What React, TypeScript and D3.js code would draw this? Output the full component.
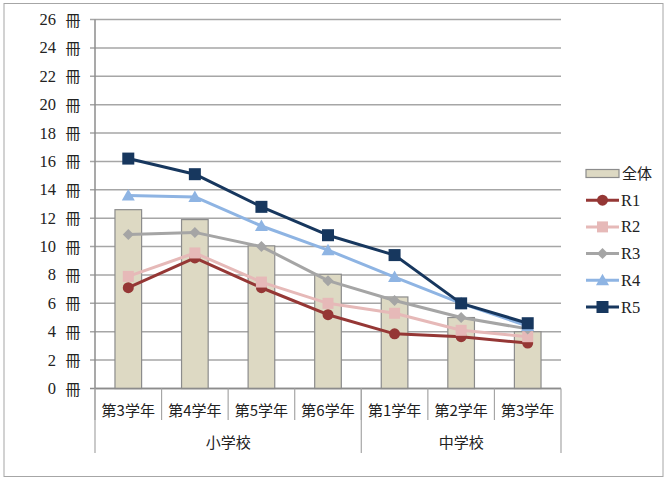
import React from "react";
import * as d3 from "d3";

const categories = ["第3学年", "第4学年", "第5学年", "第6学年", "第1学年", "第2学年", "第3学年"];
const groups = [
  { name: "小学校", count: 4 },
  { name: "中学校", count: 3 },
];
const totalValues = [12.6, 11.9, 10.05, 8.05, 6.45, 5.0, 4.0];
const r1 = [7.1, 9.2, 7.1, 5.2, 3.85, 3.65, 3.2];
const r2 = [7.9, 9.55, 7.5, 6.0, 5.3, 4.1, 3.65];
const r3 = [10.85, 11.0, 10.0, 7.6, 6.2, 5.0, 4.2];
const r4 = [13.6, 13.5, 11.45, 9.75, 7.85, 6.0, 4.4];
const r5 = [16.2, 15.1, 12.8, 10.8, 9.4, 6.0, 4.6];
const yTicks = [0, 2, 4, 6, 8, 10, 12, 14, 16, 18, 20, 22, 24, 26];
const unit = "冊";
const barName = "全体";

const series = [
  { name: "R1", values: r1, color: "#953735", marker: "circle" },
  { name: "R2", values: r2, color: "#e6b9b8", marker: "square" },
  { name: "R3", values: r3, color: "#a5a5a5", marker: "diamond" },
  { name: "R4", values: r4, color: "#8eb4e3", marker: "triangle" },
  { name: "R5", values: r5, color: "#17375e", marker: "squareBig" },
];

const W = 665;
const H = 478;
const plot = { left: 95, right: 561, top: 19.5, bottom: 388.5 };

const serif = "'Liberation Serif', 'DejaVu Serif', serif";
const cjk = "'Noto Sans CJK JP', sans-serif";

function Marker({ type, x, y, color }: { type: string; x: number; y: number; color: string }) {
  if (type === "circle") return <circle cx={x} cy={y} r={5.5} fill={color} />;
  if (type === "square") return <rect x={x - 5.5} y={y - 5.5} width={11} height={11} fill={color} />;
  if (type === "squareBig") return <rect x={x - 6} y={y - 6} width={12} height={12} fill={color} />;
  if (type === "diamond")
    return <path d={`M${x},${y - 5.5}L${x + 5.5},${y}L${x},${y + 5.5}L${x - 5.5},${y}Z`} fill={color} />;
  if (type === "triangle")
    return <path d={`M${x},${y - 6.5}L${x + 6.5},${y + 5}L${x - 6.5},${y + 5}Z`} fill={color} />;
  return null;
}

export default function App() {
  const x = d3
    .scaleBand<number>()
    .domain(categories.map((_, i) => i))
    .range([plot.left, plot.right])
    .paddingInner(0)
    .paddingOuter(0);
  const y = d3.scaleLinear().domain([0, 26]).range([plot.bottom, plot.top]);
  const bw = x.bandwidth();
  const barW = bw * 0.4;
  const cx = (i: number) => (x(i) as number) + bw / 2;
  const line = d3
    .line<number>()
    .x((_, i) => cx(i))
    .y((d) => y(d));

  const legendX = 586;
  const legendY0 = 173.5;
  const legendDy = 26.7;

  let acc = 0;
  const groupBounds = groups.map((g) => {
    const start = acc;
    acc += g.count;
    return { ...g, start, end: acc };
  });

  return (
    <svg
      width={W}
      height={H}
      style={{ position: "absolute", left: 0, top: 0, background: "#fff" }}
    >
      <rect x={4} y={3.5} width={659} height={473} fill="#fff" stroke="#a6a6a6" strokeWidth={1} />
      {yTicks.map((t) => (
        <line key={t} x1={plot.left - 5} x2={plot.right} y1={y(t)} y2={y(t)} stroke={t === 0 ? "#8c8c8c" : "#a6a6a6"} strokeWidth={1.5} />
      ))}
      <line x1={plot.left} x2={plot.left} y1={plot.top} y2={plot.bottom} stroke="#8c8c8c" strokeWidth={1.5} />
      {yTicks.map((t) => (
        <g key={"l" + t}>
          <text x={56} y={y(t) + 5.5} textAnchor="end" fontFamily={serif} fontSize={16.5} fill="#222">
            {t}
          </text>
          <text x={65.5} y={y(t) + 6} fontFamily={cjk} fontSize={15} fill="#222">
            {unit}
          </text>
        </g>
      ))}
      {totalValues.map((v, i) => (
        <rect
          key={i}
          x={cx(i) - barW / 2}
          y={y(v)}
          width={barW}
          height={y(0) - y(v)}
          fill="#ddd9c3"
          stroke="#8c8c8c"
          strokeWidth={1.2}
        />
      ))}
      <line x1={plot.left} x2={plot.right} y1={plot.bottom} y2={plot.bottom} stroke="#8c8c8c" strokeWidth={1.5} />
      {categories.map((_, i) => (
        <line key={"t" + i} x1={x(i) as number} x2={x(i) as number} y1={plot.bottom} y2={420} stroke="#a6a6a6" strokeWidth={1.2} />
      ))}
      {groupBounds.map((g, gi) => (
        <g key={"g" + gi}>
          <line x1={x(g.start) as number} x2={x(g.start) as number} y1={plot.bottom} y2={453} stroke="#a6a6a6" strokeWidth={1.2} />
          <text
            x={((x(g.start) as number) + (g.end >= categories.length ? plot.right : (x(g.end) as number))) / 2}
            y={448}
            textAnchor="middle"
            fontFamily={cjk}
            fontSize={15}
            fill="#222"
          >
            {g.name}
          </text>
        </g>
      ))}
      <line x1={plot.right} x2={plot.right} y1={plot.bottom} y2={453} stroke="#a6a6a6" strokeWidth={1.2} />
      {categories.map((c, i) => (
        <text key={"c" + i} x={cx(i)} y={416} textAnchor="middle" fontFamily={cjk} fontSize={15} fill="#222">
          {c}
        </text>
      ))}
      {series.map((s) => (
        <g key={s.name}>
          <path d={line(s.values) || ""} fill="none" stroke={s.color} strokeWidth={3} strokeLinejoin="round" />
          {s.values.map((v, i) => (
            <Marker key={i} type={s.marker} x={cx(i)} y={y(v)} color={s.color} />
          ))}
        </g>
      ))}
      <rect x={legendX} y={legendY0 - 4} width={33} height={8} fill="#ddd9c3" stroke="#8c8c8c" strokeWidth={1.2} />
      <text x={legendX + 36} y={legendY0 + 5.5} fontFamily={cjk} fontSize={15} fill="#222">
        {barName}
      </text>
      {series.map((s, i) => {
        const ly = legendY0 + legendDy * (i + 1);
        return (
          <g key={"lg" + s.name}>
            <line x1={legendX} x2={legendX + 33} y1={ly} y2={ly} stroke={s.color} strokeWidth={3} />
            <Marker type={s.marker} x={legendX + 16.5} y={ly} color={s.color} />
            <text x={legendX + 35} y={ly + 5.5} fontFamily={serif} fontSize={16.5} fill="#222">
              {s.name}
            </text>
          </g>
        );
      })}
    </svg>
  );
}
